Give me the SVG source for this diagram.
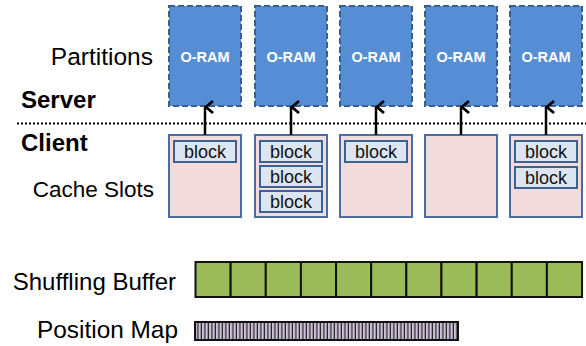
<svg xmlns="http://www.w3.org/2000/svg" width="586" height="346" viewBox="0 0 586 346">
<style>
.lbl{font-family:"Liberation Sans",Arial,sans-serif;font-size:24px;fill:#000;text-anchor:end}
.bold{font-weight:bold;text-anchor:start}
.oram{fill:#558ed5;stroke:#3a5f8e;stroke-width:2;stroke-dasharray:6 3}
.oramt{font-family:"Liberation Sans",Arial,sans-serif;font-size:14.5px;font-weight:bold;fill:#fff;text-anchor:middle}
.slot{fill:#f2dcdb;stroke:#4a6da0;stroke-width:2}
.blk{fill:#dce6f2;stroke:#3d6192;stroke-width:2}
.blkt{font-family:"Liberation Sans",Arial,sans-serif;font-size:18px;fill:#111;text-anchor:middle}
.cell{fill:#9bbb59;stroke:#111;stroke-width:2}
.arr{stroke:#000;stroke-width:2.5;fill:none;marker-end:url(#ah)}
</style>
<defs>
<marker id="ah" markerUnits="userSpaceOnUse" markerWidth="16" markerHeight="16" viewBox="-8 -1 16 16" refX="0" refY="0" orient="auto-start-reverse">
<path d="M-6,8 L0,1 L6,8" fill="none" stroke="#000" stroke-width="2.8"/>
</marker>
<pattern id="stripes" patternUnits="userSpaceOnUse" x="195" y="0" width="3.5" height="20">
<rect x="0" y="0" width="3.5" height="20" fill="#ccc0da"/>
<rect x="2.3" y="0" width="1.2" height="20" fill="#222"/>
</pattern>
</defs>

<g id="labels">
<text class="lbl" x="153" y="65" style="font-size:24.5px">Partitions</text>
<text class="lbl bold" x="21" y="108" style="font-size:24px">Server</text>
<text class="lbl bold" x="21" y="151" style="font-size:24px">Client</text>
<text class="lbl" x="154" y="197" style="font-size:22.5px">Cache Slots</text>
<text class="lbl" x="176" y="290" style="font-size:24px">Shuffling Buffer</text>
<text class="lbl" x="178" y="338" style="font-size:24.4px">Position Map</text>
</g>

<g id="divider">
<line x1="17" y1="123.5" x2="586" y2="123.5" stroke="#000" stroke-width="2.2" stroke-dasharray="2 2"/>
</g>

<g id="oram1"><rect class="oram" x="169" y="6" width="72" height="100"/><text class="oramt" x="205" y="62">O-RAM</text></g>
<g id="oram2"><rect class="oram" x="255" y="6" width="72" height="100"/><text class="oramt" x="291" y="62">O-RAM</text></g>
<g id="oram3"><rect class="oram" x="340" y="6" width="72" height="100"/><text class="oramt" x="376" y="62">O-RAM</text></g>
<g id="oram4"><rect class="oram" x="425" y="6" width="72" height="100"/><text class="oramt" x="461" y="62">O-RAM</text></g>
<g id="oram5"><rect class="oram" x="510" y="6" width="72" height="100"/><text class="oramt" x="546" y="62">O-RAM</text></g>

<g id="slot1"><rect class="slot" x="169" y="135" width="72" height="82"/>
<rect class="blk" x="174" y="141" width="62" height="21"/><text class="blkt" x="205" y="158">block</text></g>
<g id="slot2"><rect class="slot" x="255" y="135" width="72" height="82"/>
<rect class="blk" x="260" y="141" width="62" height="21"/><text class="blkt" x="291" y="158">block</text>
<rect class="blk" x="260" y="166" width="62" height="21"/><text class="blkt" x="291" y="183">block</text>
<rect class="blk" x="260" y="191" width="62" height="21"/><text class="blkt" x="291" y="208">block</text></g>
<g id="slot3"><rect class="slot" x="340" y="135" width="72" height="82"/>
<rect class="blk" x="345" y="141" width="62" height="21"/><text class="blkt" x="376" y="158">block</text></g>
<g id="slot4"><rect class="slot" x="425" y="135" width="72" height="82"/></g>
<g id="slot5"><rect class="slot" x="510" y="135" width="72" height="82"/>
<rect class="blk" x="515" y="141" width="62" height="21"/><text class="blkt" x="546" y="158">block</text>
<rect class="blk" x="515" y="167" width="62" height="21"/><text class="blkt" x="546" y="184">block</text></g>

<g id="connectors">
<line class="arr" x1="205" y1="135" x2="205" y2="107"/>
<line class="arr" x1="291" y1="135" x2="291" y2="107"/>
<line class="arr" x1="376" y1="135" x2="376" y2="107"/>
<line class="arr" x1="461" y1="135" x2="461" y2="107"/>
<line class="arr" x1="546" y1="135" x2="546" y2="107"/>
</g>

<g id="shuffling-buffer">
<rect class="cell" x="195.5" y="262" width="35.14" height="35"/>
<rect class="cell" x="230.64" y="262" width="35.14" height="35"/>
<rect class="cell" x="265.78" y="262" width="35.14" height="35"/>
<rect class="cell" x="300.92" y="262" width="35.14" height="35"/>
<rect class="cell" x="336.06" y="262" width="35.14" height="35"/>
<rect class="cell" x="371.2" y="262" width="35.14" height="35"/>
<rect class="cell" x="406.34" y="262" width="35.14" height="35"/>
<rect class="cell" x="441.48" y="262" width="35.14" height="35"/>
<rect class="cell" x="476.62" y="262" width="35.14" height="35"/>
<rect class="cell" x="511.76" y="262" width="35.14" height="35"/>
<rect class="cell" x="546.9" y="262" width="35.14" height="35"/>
</g>

<g id="position-map">
<rect x="195" y="322" width="263" height="18" fill="url(#stripes)" stroke="#111" stroke-width="2"/>
</g>
</svg>
